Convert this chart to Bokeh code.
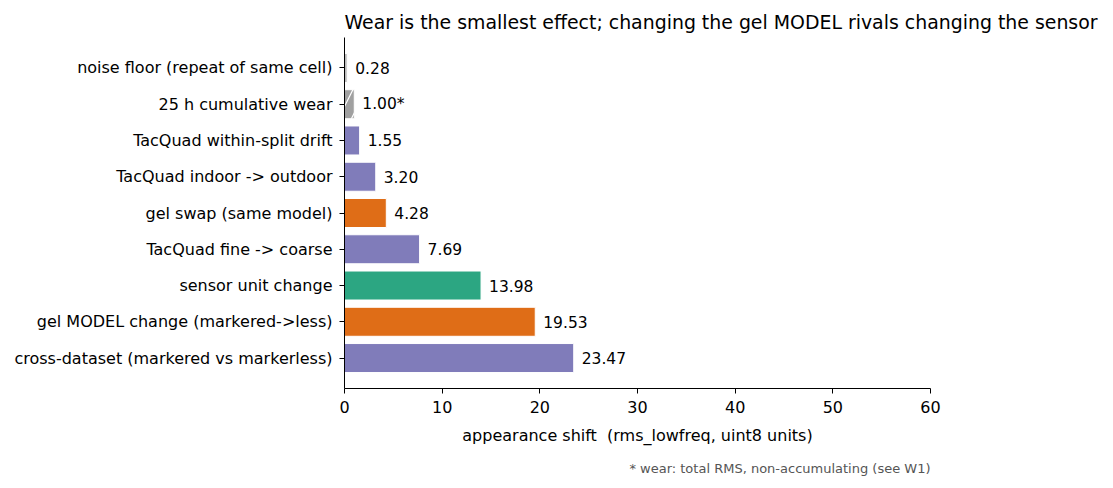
from bokeh.plotting import figure
from bokeh.models import ColumnDataSource, Range1d, FixedTicker, Title
from bokeh.embed import file_html
from bokeh.resources import INLINE
from bokeh.core.properties import value

# data, bottom to top
categories = [
    "cross-dataset (markered vs markerless)",
    "gel MODEL change (markered->less)",
    "sensor unit change",
    "TacQuad fine -> coarse",
    "gel swap (same model)",
    "TacQuad indoor -> outdoor",
    "TacQuad within-split drift",
    "25 h cumulative wear",
    "noise floor (repeat of same cell)",
]
values = [23.47, 19.53, 13.98, 7.69, 4.28, 3.20, 1.55, 1.00, 0.28]
value_labels = ["23.47", "19.53", "13.98", "7.69", "4.28", "3.20", "1.55", "1.00*", "0.28"]
groups = ["dataset", "gel", "sensor", "dataset", "gel", "dataset", "dataset", "wear", "noise"]
group_colors = {"dataset": "#807cba", "gel": "#df6d17", "sensor": "#2ca682",
                "wear": "#a0a0a0", "noise": "#bbbbbb"}
x_ticks = [0, 10, 20, 30, 40, 50, 60]

ypos = list(range(len(categories)))
colors = [group_colors[g] for g in groups]
hatches = ["/" if g == "wear" else " " for g in groups]

src = ColumnDataSource(dict(y=ypos, v=values, c=colors, lab=value_labels, h=hatches))

p = figure(width=1105, height=486, output_backend="svg", toolbar_location=None,
           x_range=Range1d(0, 60), y_range=Range1d(-0.84, 8.84),
           min_border_left=344, min_border_right=175, min_border_top=37, min_border_bottom=96)

p.hbar(y="y", left=0, right="v", height=0.8, source=src, fill_color="c",
       line_color="white", line_width=1, hatch_pattern="h", hatch_color="white",
       hatch_scale=26, hatch_weight=1.2)

p.text(x="v", y="y", text="lab", source=src, x_offset=8, text_baseline="middle",
       text_align="left", text_font_size="15.5px", text_font=value("DejaVu Sans"),
       text_color="#000000")

p.title.text = "Wear is the smallest effect; changing the gel MODEL rivals changing the sensor"
p.title.align = "left"
p.title.text_font = "DejaVu Sans"
p.title.text_font_size = "18.9px"
p.title.text_font_style = "normal"
p.title.text_color = "black"
p.title.offset = 0
p.title.standoff = 9

p.xgrid.visible = False
p.ygrid.visible = False
p.outline_line_color = None

xa = p.xaxis[0]
xa.ticker = FixedTicker(ticks=x_ticks)
xa.axis_label = "appearance shift \u00a0(rms_lowfreq, uint8 units)"
ya = p.yaxis[0]
ya.ticker = FixedTicker(ticks=ypos)
ya.major_label_overrides = {i: c for i, c in enumerate(categories)}

for ax in (xa, ya):
    ax.axis_line_color = "black"
    ax.axis_line_width = 1
    ax.major_tick_line_color = "black"
    ax.major_tick_out = 5
    ax.major_tick_in = 0
    ax.minor_tick_line_color = None
    ax.major_label_text_font = "DejaVu Sans"
    ax.major_label_text_font_size = "16px"
    ax.major_label_text_color = "black"
    ax.major_label_standoff = 7
    ax.axis_label_text_font = "DejaVu Sans"
    ax.axis_label_text_font_size = "16px"
    ax.axis_label_text_font_style = "normal"
    ax.axis_label_text_color = "black"
    ax.axis_label_standoff = 10

note = Title(text="* wear: total RMS, non-accumulating (see W1)", align="right",
             text_font="DejaVu Sans", text_font_size="13px", text_font_style="normal",
             text_color="#555555", standoff=22)
p.add_layout(note, "below")

open("out.html", "w").write(file_html(p, INLINE))
